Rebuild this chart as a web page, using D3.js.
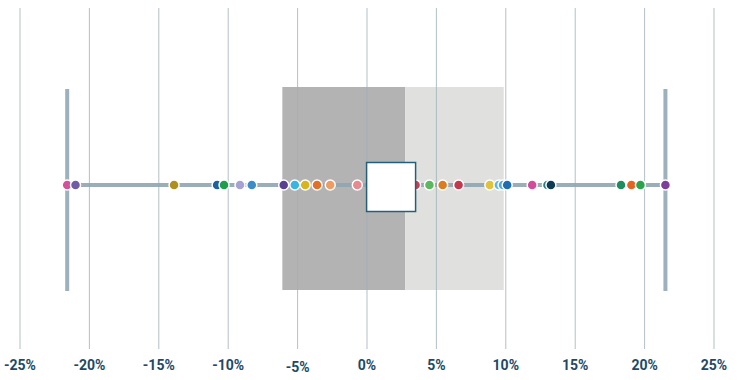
<!DOCTYPE html>
<html>
<head>
<meta charset="utf-8">
<script src="https://cdn.jsdelivr.net/npm/d3@7"></script>
<style>
  body { margin: 0; background: #fff; }
  svg { display: block; font-family: Roboto, "Open Sans", sans-serif; }
</style>
</head>
<body>
<div id="chart"></div>
<script>
// tick values (percent)
const ticks = [-25, -20, -15, -10, -5, 0, 5, 10, 15, 20, 25];

// summary stats of the distribution (percent)
const whiskerLow = -21.6;
const q1 = -6.1;
const median = 2.75;
const q3 = 9.85;
const whiskerHigh = 21.5;
const mean = 1.7;

// individual points (percent) and their colours
const pointValues = [-21.6, -21.0, -13.9, -10.8, -10.3, -9.15, -8.3, -6.0, -5.2, -4.45,
  -3.6, -2.65, -0.7, 3.5, 4.5, 5.45, 6.6, 8.85, 9.5, 9.8, 10.1, 11.9, 13.0, 13.25,
  18.3, 19.05, 19.7, 21.5];
const pointColors = ["#d6519b", "#6f5ba8", "#b0901d", "#1a62a0", "#1f9e4b", "#a6a3d4",
  "#3a8ccb", "#5a3f91", "#38b6e3", "#d8b51c", "#e2702a", "#ee9c62", "#e68a90",
  "#cf3c4f", "#5cb85f", "#de7b1d", "#c7374b", "#e1c23c", "#5cb7e6", "#4aa9de",
  "#1e6eb3", "#d34c9c", "#2d7a8a", "#0d3a55", "#1f8c60", "#e6621f", "#2aa44b", "#7c3e98"];

const width = 740, height = 380;
const margin = { left: 20, right: 26, top: 8 };
const axisY = 349;
const midY = 185;

const svg = d3.select("#chart").append("svg")
  .attr("width", width)
  .attr("height", height);

const x = d3.scaleLinear()
  .domain([-25, 25])
  .range([margin.left, width - margin.right]);

// box: lower half dark, upper half light
svg.append("rect")
  .attr("x", x(q1)).attr("y", 87)
  .attr("width", x(median) - x(q1)).attr("height", 203)
  .attr("fill", "#b3b3b3");
svg.append("rect")
  .attr("x", x(median)).attr("y", 87)
  .attr("width", x(q3) - x(median)).attr("height", 203)
  .attr("fill", "#e0e0de");

// grid lines
svg.append("g")
  .selectAll("line")
  .data(ticks)
  .join("line")
  .attr("x1", d => x(d)).attr("x2", d => x(d))
  .attr("y1", margin.top).attr("y2", axisY)
  .attr("stroke", "#9fb0b6")
  .attr("stroke-opacity", 0.8)
  .attr("stroke-width", 1);

// whisker line and caps
svg.append("line")
  .attr("x1", x(whiskerLow)).attr("x2", x(whiskerHigh))
  .attr("y1", midY).attr("y2", midY)
  .attr("stroke", "#8fa5b1")
  .attr("stroke-opacity", 0.9)
  .attr("stroke-width", 4);
[whiskerLow, whiskerHigh].forEach(v => {
  svg.append("line")
    .attr("x1", x(v)).attr("x2", x(v))
    .attr("y1", 89).attr("y2", 291)
    .attr("stroke", "#9db1bc")
    .attr("stroke-width", 4);
});

// points
svg.append("g")
  .selectAll("circle")
  .data(pointValues)
  .join("circle")
  .attr("cx", d => x(d))
  .attr("cy", midY)
  .attr("r", 5)
  .attr("fill", (d, i) => pointColors[i])
  .attr("stroke", "#fff")
  .attr("stroke-width", 1.5);

// mean marker
const sq = 49;
svg.append("rect")
  .attr("x", x(mean) - sq / 2 + 0.5)
  .attr("y", 162.5)
  .attr("width", sq).attr("height", sq)
  .attr("fill", "#fff")
  .attr("stroke", "#245f7a")
  .attr("stroke-width", 1.5);

// axis labels
svg.append("g")
  .selectAll("text")
  .data(ticks)
  .join("text")
  .attr("x", d => x(d))
  .attr("y", d => d === -5 ? 372 : 370)
  .attr("text-anchor", "middle")
  .attr("fill", "#1d4a66")
  .style("font-size", "14px")
  .style("font-weight", 700)
  .text(d => d + "%");
</script>
</body>
</html>
